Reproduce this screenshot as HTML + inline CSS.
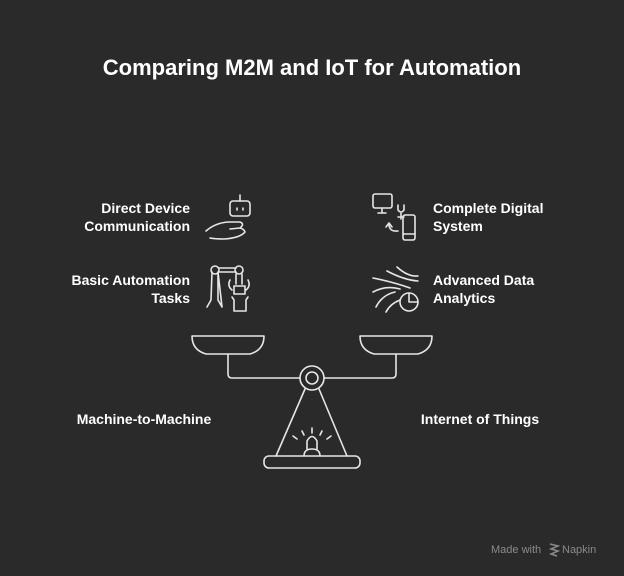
<!DOCTYPE html>
<html><head><meta charset="utf-8"><style>
html,body{margin:0;padding:0;background:#2a2a2a;}
svg{display:block}
text{font-family:"Liberation Sans",sans-serif;fill:#fff;font-weight:bold}
</style></head><body>
<svg width="624" height="576" viewBox="0 0 624 576" xmlns="http://www.w3.org/2000/svg">
<rect width="624" height="576" fill="#2a2a2a"/>
<text x="312" y="75" font-size="22" text-anchor="middle">Comparing M2M and IoT for Automation</text>
<g font-size="14">
<text x="190" y="213" text-anchor="end">Direct Device</text>
<text x="190" y="231" text-anchor="end">Communication</text>
<text x="190" y="285" text-anchor="end">Basic Automation</text>
<text x="190" y="303" text-anchor="end">Tasks</text>
<text x="433" y="213">Complete Digital</text>
<text x="433" y="231">System</text>
<text x="433" y="285">Advanced Data</text>
<text x="433" y="303">Analytics</text>
<text x="144" y="424" text-anchor="middle">Machine-to-Machine</text>
<text x="480" y="424" text-anchor="middle">Internet of Things</text>
</g>
<g fill="none" stroke="#e6e6e6" stroke-width="1.6" stroke-linecap="round" stroke-linejoin="round">
<!-- robot hand -->
<rect x="230" y="201" width="20" height="15" rx="3"/><line x1="240" y1="195" x2="240" y2="201"/>
<line x1="237" y1="208" x2="237" y2="210"/><line x1="243" y1="208" x2="243" y2="210"/>
<path d="M206 231 Q215 223 228 222 L240 222 Q245 224 240 228 L230 229 M240 228 Q244 229 245 232 Q240 238 224 239 Q215 239 210 238"/>
<!-- robot arm -->
<path d="M207 307 L211 300 L212 272 M218 272 L218 300 L222 307 Z"/>
<circle cx="215" cy="270" r="4"/><line x1="219" y1="268" x2="236" y2="268"/><line x1="219" y1="272" x2="236" y2="272"/>
<circle cx="239" cy="270" r="4"/><path d="M236 274 L236 284 M242 274 L242 284"/>
<path d="M232 290 Q227 286 230 280 M246 290 Q251 286 248 280"/>
<rect x="234" y="286" width="11" height="8"/><path d="M232 297 L234 300 L234 311 L246 311 L246 300 L248 297"/>
<!-- digital system -->
<rect x="373" y="194" width="19" height="14" rx="2"/><line x1="382" y1="208" x2="382" y2="213"/><line x1="378" y1="213" x2="386" y2="213"/>
<path d="M398 205 L398 210 Q401 214 404 210 L404 205 M401 213 L401 219 M398 217 L404 217"/>
<rect x="403" y="215" width="12" height="25" rx="2"/><line x1="403" y1="234" x2="415" y2="234"/>
<path d="M398 231 Q389 232 389 224 M386 227 L389 223 L392 227"/>
<!-- analytics -->
<path d="M397 267 Q408 277 418 276 M387 271 Q404 280 418 281 M373 278 Q393 282 410 288 M373 292 Q386 285 400 289 M376 307 Q382 295 395 292 M386 312 Q390 304 400 300"/>
<circle cx="409" cy="302" r="9"/><path d="M409 293 L409 302 L418 302"/>
<!-- scale -->
<path d="M192 336 L264 336 Q264 350 250 354 L206 354 Q192 350 192 336 Z"/>
<path d="M360 336 L432 336 Q432 350 418 354 L374 354 Q360 350 360 336 Z"/>
<path d="M228 354 L228 374 Q228 378 232 378 L300 378 M324 378 L392 378 Q396 378 396 374 L396 354"/>
<circle cx="312" cy="378" r="12"/><circle cx="312" cy="378" r="6"/>
<path d="M305 389 L276 456 M319 389 L347 456"/>
<rect x="264" y="456" width="96" height="12" rx="5"/>
<path d="M304 456 Q304 449 312 449 Q320 449 320 456 M307 449 L307 441 Q312 432 317 441 L317 449"/>
<path d="M312 428 L312 433 M302 431 L304 435 M322 431 L320 435 M293 436 L297 439 M331 436 L327 439"/>
</g>
<text x="491" y="553" font-size="11" font-weight="normal" style="font-weight:normal;fill:#8a8a8a">Made with</text>
<path d="M550 544 L558 546 L551 549 L558 551 L551 554 L557 556" fill="none" stroke="#8a8a8a" stroke-width="1.5"/>
<text x="562" y="553" font-size="11" style="font-weight:normal;fill:#8a8a8a">Napkin</text>
</svg>
</body></html>
